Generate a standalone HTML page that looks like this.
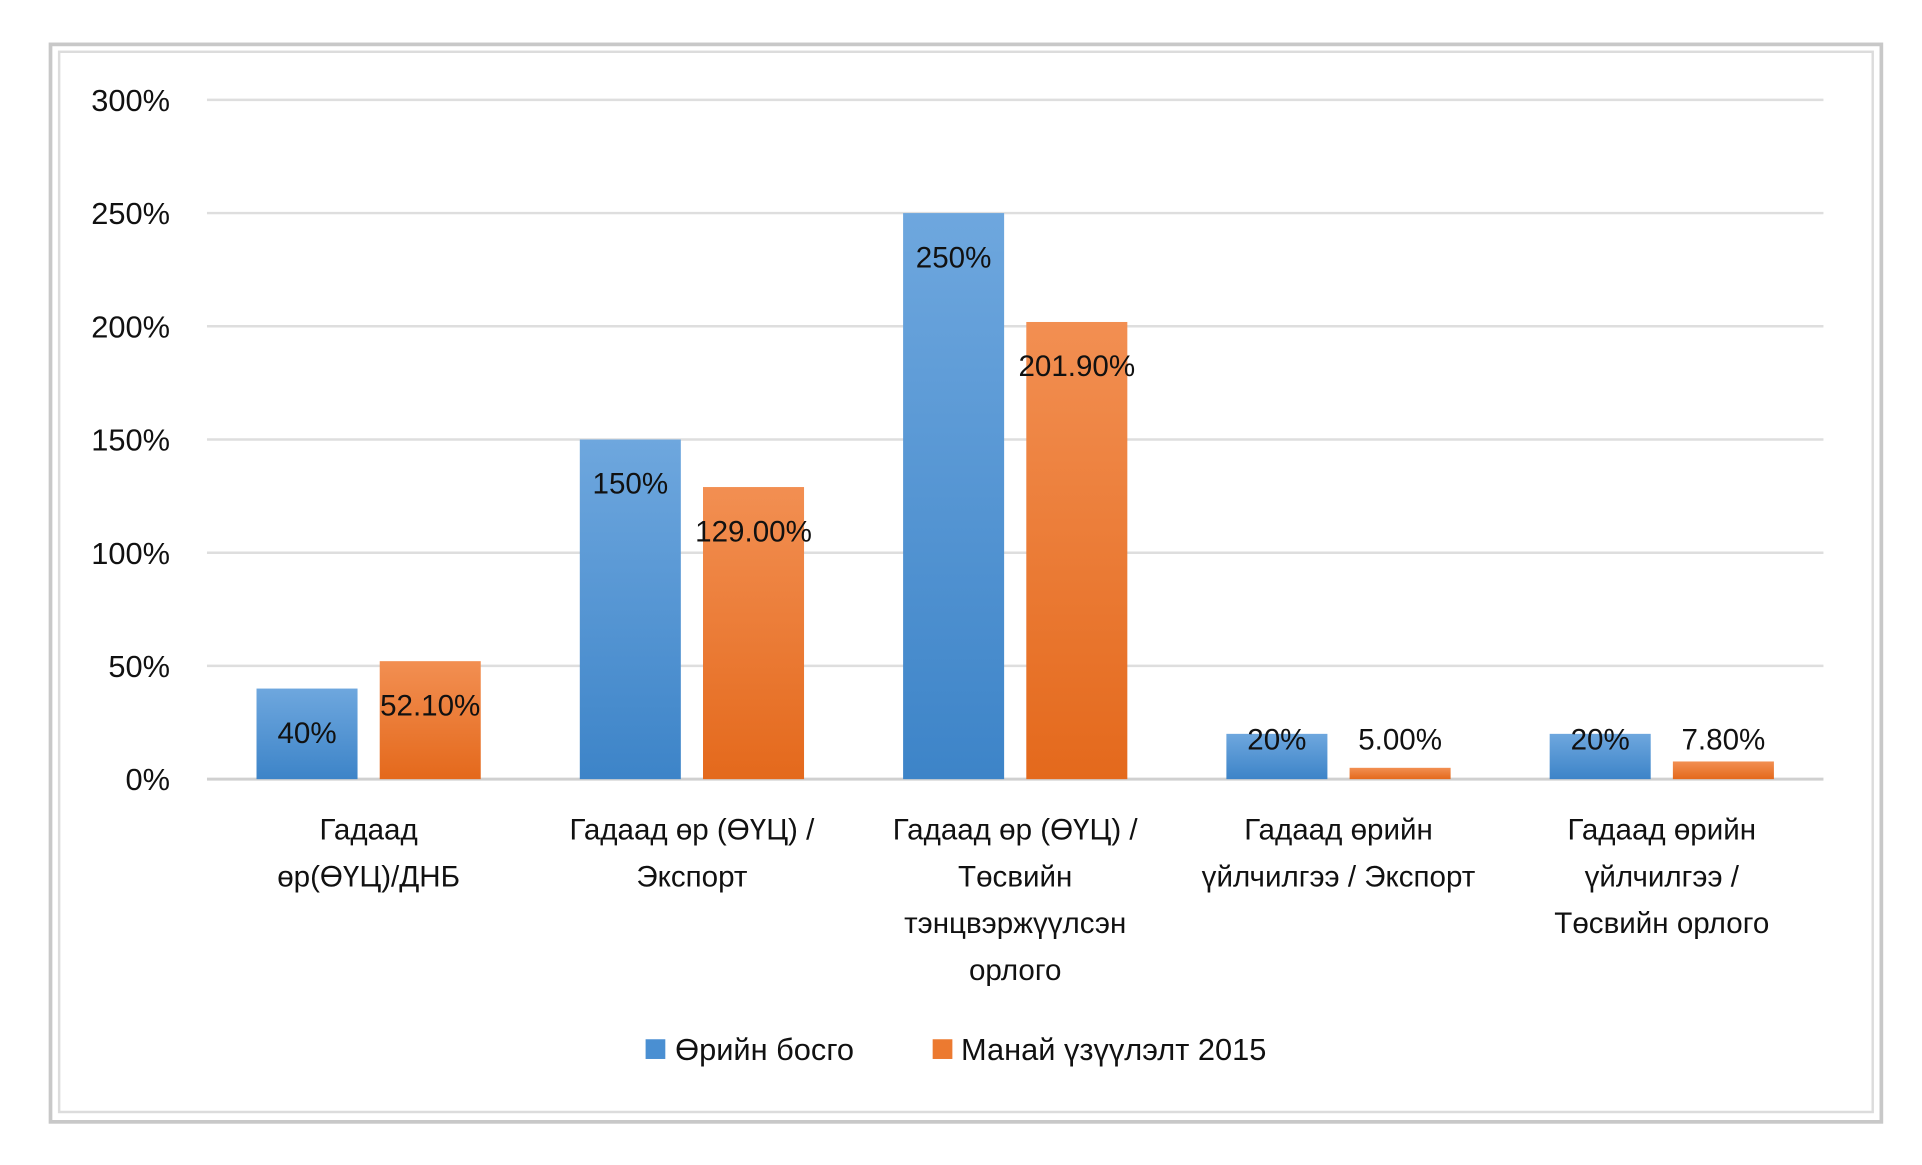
<!DOCTYPE html>
<html><head><meta charset="utf-8">
<style>
html,body{margin:0;padding:0;background:#fff;}
svg{display:block;}
text{font-family:"Liberation Sans","DejaVu Sans",sans-serif;fill:#111;}
</style></head>
<body>
<svg id="chart" width="1922" height="1165" viewBox="0 0 1560 945" preserveAspectRatio="none" xmlns="http://www.w3.org/2000/svg">
<defs>
<linearGradient id="gb" x1="0" y1="0" x2="0" y2="1"><stop offset="0" stop-color="#6ea7de"/><stop offset="1" stop-color="#3d84c8"/></linearGradient>
<linearGradient id="go" x1="0" y1="0" x2="0" y2="1"><stop offset="0" stop-color="#f28f52"/><stop offset="1" stop-color="#e4691c"/></linearGradient>
</defs>
<rect x="41" y="36" width="1486" height="874" fill="#fff" stroke="#c8c8c8" stroke-width="3"/>
<rect x="48" y="42" width="1472" height="860" fill="#fff" stroke="#dcdcdc" stroke-width="2"/>
<g id="grid"></g>
<g id="bars"></g>
<g id="labels"></g>
<g>
<rect x="524" y="843" width="16" height="16" fill="#4a8fd2"/>
<text x="548" y="860" font-size="25">Өрийн босго</text>
<rect x="757" y="843" width="16" height="16" fill="#ec7a30"/>
<text x="780" y="860" font-size="25">Манай үзүүлэлт 2015</text>
</g>
</svg>
<script>
const categories=[["Гадаад","өр(ӨҮЦ)/ДНБ"],["Гадаад өр (ӨҮЦ) /","Экспорт"],["Гадаад өр (ӨҮЦ) /","Төсвийн","тэнцвэржүүлсэн","орлого"],["Гадаад өрийн","үйлчилгээ / Экспорт"],["Гадаад өрийн","үйлчилгээ /","Төсвийн орлого"]];
const thresholdValues=[40,150,250,20,20];
const actualValues=[52.1,129.0,201.9,5.0,7.8];
const thresholdLabels=["40%","150%","250%","20%","20%"];
const actualLabels=["52.10%","129.00%","201.90%","5.00%","7.80%"];
const yTicks=[0,50,100,150,200,250,300];
const NS="http://www.w3.org/2000/svg";
const x0=168,x1=1480,yZero=632,yTop=81,yMax=300;
const band=(x1-x0)/categories.length;
function y(v){return yZero-(v/yMax)*(yZero-yTop);}
function mk(tag,attrs,parent){const e=document.createElementNS(NS,tag);for(const k in attrs)e.setAttribute(k,attrs[k]);parent.appendChild(e);return e;}
const grid=document.getElementById('grid'),bars=document.getElementById('bars'),labels=document.getElementById('labels');
yTicks.forEach(t=>{
  const l=mk('line',{x1:x0,x2:x1,y1:y(t),y2:y(t),stroke:t===0?'#d0d0d0':'#dedede','stroke-width':t===0?2.5:2},grid);
  
  
  const tx=mk('text',{x:138,y:y(t)+9,'text-anchor':'end','font-size':25},grid);
  tx.textContent=t+'%';
  
  
});
const bw=82,gap=18;
categories.forEach((c,i)=>{
  const cx=x0+band*i+band/2;
  const series=[[thresholdValues[i],thresholdLabels[i],'url(#gb)',cx-gap/2-bw,'threshold'],[actualValues[i],actualLabels[i],'url(#go)',cx+gap/2,'actual-2015']];
  series.forEach(s=>{
    const top=y(s[0]);
    const r=mk('rect',{x:s[3],y:top,width:bw,height:yZero-top,fill:s[2]},bars);
    
    
    const ly=Math.min(top+44,608);
    const t=mk('text',{x:s[3]+bw/2,y:ly,'text-anchor':'middle','font-size':24},labels);
    t.textContent=s[1];
    
    
  });
  const g=mk('text',{'text-anchor':'middle','font-size':24},labels);
  
  
  c.forEach((line,j)=>{const ts=mk('tspan',{x:cx,y:681+j*38},g);ts.textContent=line;});
});
</script>
</body></html>
